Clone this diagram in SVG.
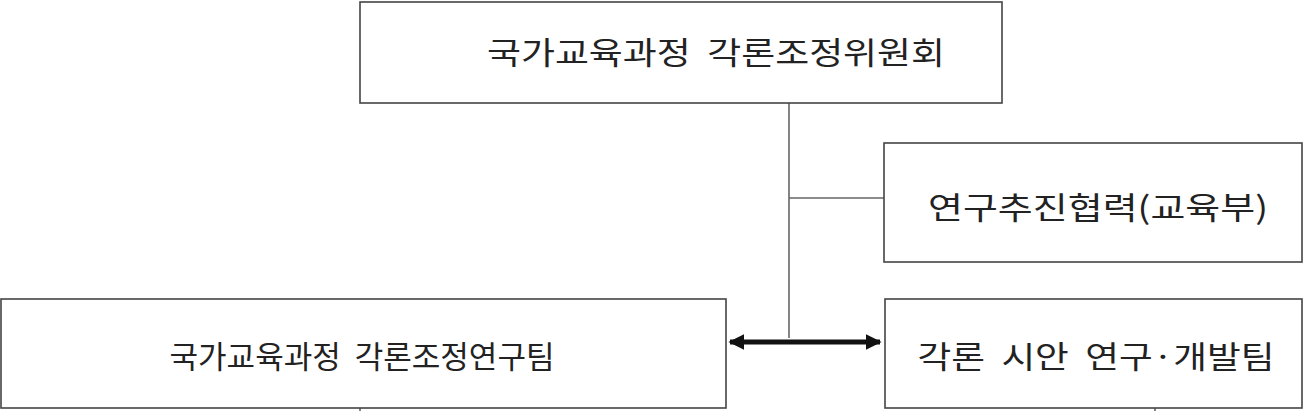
<svg xmlns="http://www.w3.org/2000/svg" width="1306" height="411" viewBox="0 0 1306 411">
<style>
.box{fill:#fff;stroke:#444;stroke-width:1.6}
.t{font-family:"Noto Sans CJK KR",sans-serif;font-size:31px;fill:#222;text-anchor:middle;dominant-baseline:central;white-space:pre}
.ln{stroke:#666;stroke-width:1.6;fill:none}
</style>
<defs>
<marker id="ah" viewBox="0 0 10 10" refX="9" refY="5" markerWidth="3.2" markerHeight="3.2" orient="auto-start-reverse" markerUnits="strokeWidth"><path d="M0,0L10,5L0,10z" fill="#111"/></marker>
</defs>
<rect width="1306" height="411" fill="#fff"/>
<g id="connectors">
<line class="ln" x1="789" y1="103" x2="789" y2="338"/>
<line class="ln" x1="789" y1="198" x2="884" y2="198"/>
<line x1="730" y1="342" x2="880" y2="342" stroke="#111" stroke-width="5" marker-start="url(#ah)" marker-end="url(#ah)"/>
<line class="ln" x1="360" y1="408" x2="360" y2="411"/>
<line class="ln" x1="1155" y1="408" x2="1155" y2="411"/>
</g>
<g id="n1"><rect class="box" x="360" y="2" width="642" height="101"/><text class="t" x="716" y="50" textLength="458" lengthAdjust="spacingAndGlyphs">국가교육과정  각론조정위원회</text></g>
<g id="n2"><rect class="box" x="884" y="143" width="418" height="119"/><text class="t" x="1098" y="205" textLength="340" lengthAdjust="spacingAndGlyphs">연구추진협력(교육부)</text></g>
<g id="n3"><rect class="box" x="1" y="299" width="725" height="109"/><text class="t" x="362" y="354" textLength="385" lengthAdjust="spacingAndGlyphs">국가교육과정  각론조정연구팀</text></g>
<g id="n4"><rect class="box" x="885" y="299" width="417" height="109"/><text class="t" x="1096" y="354" textLength="357" lengthAdjust="spacingAndGlyphs">각론  시안  연구·개발팀</text></g>
</svg>
